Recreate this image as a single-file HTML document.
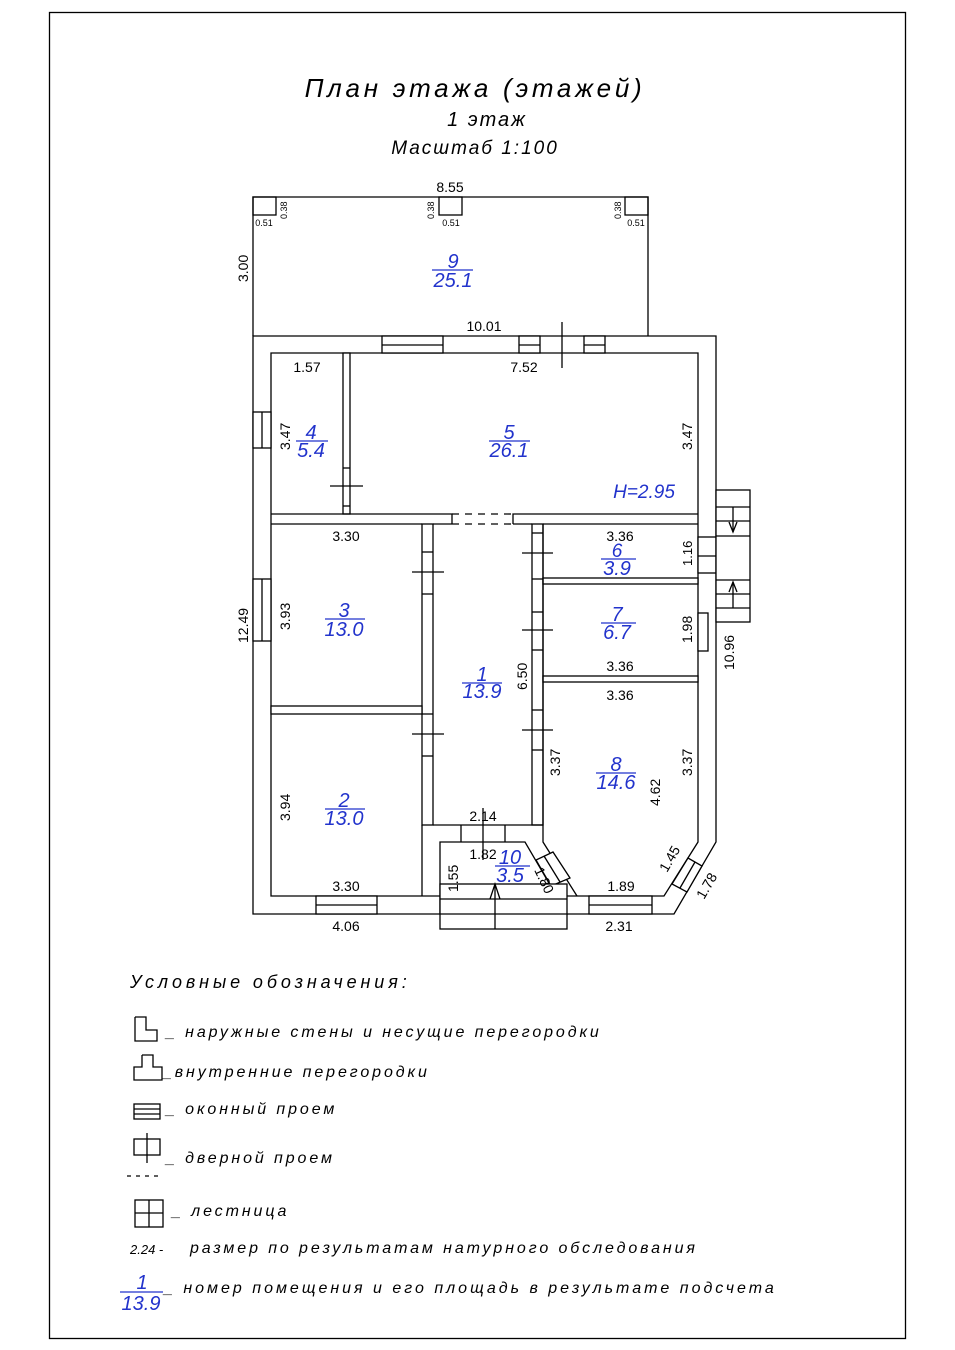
<!DOCTYPE html>
<html><head><meta charset="utf-8"><style>
html,body{margin:0;padding:0;background:#fff}
svg{display:block}
text{font-family:"Liberation Sans","DejaVu Sans",sans-serif}
.t{font-style:italic}
.d{font-size:14px;fill:#000}
.s{font-size:9px}
.b{fill:#2233cc;font-style:italic;font-size:20px}
</style></head><body>
<svg width="955" height="1350" viewBox="0 0 955 1350" xmlns="http://www.w3.org/2000/svg">
<rect x="49.5" y="12.5" width="856" height="1326" fill="none" stroke="#000" stroke-width="1.3"/>
<text class="t" x="475" y="97" font-size="26" text-anchor="middle" style="letter-spacing:3.7px">План этажа (этажей)</text>
<text class="t" x="487" y="126" font-size="20" text-anchor="middle" style="letter-spacing:2px">1 этаж</text>
<text class="t" x="475" y="154" font-size="19" text-anchor="middle" style="letter-spacing:2px">Масштаб 1:100</text>

<g fill="none" stroke="#000" stroke-width="1.3">
<polyline points="253,336 253,197 648,197 648,336"/>
<rect x="253" y="197" width="23" height="18"/>
<rect x="439" y="197" width="23" height="18"/>
<rect x="625" y="197" width="23" height="18"/>
<polygon points="253,336 716,336 716,842 674,914 253,914" fill="#fff"/>
<polygon points="271,353 698,353 698,842 664,896 271,896"/>
<rect x="382" y="336" width="61" height="17" fill="#fff"/><line x1="382" y1="345" x2="443" y2="345"/>
<rect x="519" y="336" width="21" height="17" fill="#fff"/><line x1="519" y1="345" x2="540" y2="345"/>
<rect x="584" y="336" width="21" height="17" fill="#fff"/><line x1="584" y1="345" x2="605" y2="345"/>
<line x1="562" y1="322" x2="562" y2="368"/>
<rect x="253" y="412" width="18" height="36" fill="#fff"/><line x1="262" y1="412" x2="262" y2="448"/>
<rect x="253" y="579" width="18" height="62" fill="#fff"/><line x1="262" y1="579" x2="262" y2="641"/>
<rect x="316" y="896" width="61" height="18" fill="#fff"/><line x1="316" y1="905" x2="377" y2="905"/>
<rect x="589" y="896" width="63" height="18" fill="#fff"/><line x1="589" y1="905" x2="652" y2="905"/>
<rect x="343" y="353" width="7" height="161" fill="#fff"/>
<line x1="343" y1="468" x2="350" y2="468"/><line x1="343" y1="506" x2="350" y2="506"/>
<line x1="330" y1="486" x2="363" y2="486"/>
<polyline points="271,514 452,514 452,524"/>
<polyline points="513,524 513,514 698,514"/>
<polyline points="271,524 422,524"/>
<polyline points="433,524 452,524"/>
<polyline points="513,524 532,524"/>
<polyline points="543,524 698,524"/>
<line x1="452" y1="514" x2="513" y2="514" stroke-dasharray="7,6"/>
<line x1="452" y1="524" x2="513" y2="524" stroke-dasharray="7,6"/>
<rect x="422" y="524" width="11" height="301" fill="#fff"/>
<line x1="422" y1="552" x2="433" y2="552"/><line x1="422" y1="594" x2="433" y2="594"/>
<line x1="412" y1="572" x2="444" y2="572"/>
<line x1="422" y1="714" x2="433" y2="714"/><line x1="422" y1="756" x2="433" y2="756"/>
<line x1="412" y1="734" x2="444" y2="734"/>
<rect x="271" y="706" width="151" height="8" fill="#fff"/>
<rect x="532" y="524" width="11" height="301" fill="#fff"/>
<line x1="532" y1="533" x2="543" y2="533"/><line x1="532" y1="579" x2="543" y2="579"/>
<line x1="522" y1="553" x2="553" y2="553"/>
<line x1="532" y1="612" x2="543" y2="612"/><line x1="532" y1="650" x2="543" y2="650"/>
<line x1="522" y1="630" x2="553" y2="630"/>
<line x1="532" y1="710" x2="543" y2="710"/><line x1="532" y1="750" x2="543" y2="750"/>
<line x1="522" y1="730" x2="553" y2="730"/>
<rect x="543" y="578" width="155" height="6" fill="#fff"/>
<rect x="543" y="676" width="155" height="6" fill="#fff"/>
<polyline points="433,825 543,825"/>
<polyline points="543,524 543,842 577,896"/>
<polyline points="422,825 422,896"/>
<polygon points="440,842 525,842 567,914 440,914" fill="#fff"/>
<line x1="461" y1="825" x2="461" y2="842"/><line x1="505" y1="825" x2="505" y2="842"/>
<line x1="483" y1="808" x2="483" y2="860"/>
<polygon points="536,860 551,886 570,878 553,852" fill="#fff"/>
<line x1="544" y1="856" x2="560" y2="882"/>
<polygon points="688,858 672,884 687,892 702,866" fill="#fff"/>
<line x1="695" y1="862" x2="680" y2="888"/>
<rect x="440" y="884" width="127" height="45" fill="#fff"/>
<line x1="440" y1="899" x2="567" y2="899"/>
<line x1="440" y1="914" x2="567" y2="914"/>
<line x1="495" y1="884" x2="495" y2="929"/>
<polyline points="490,899 495,884 500,899"/>
<rect x="698" y="537" width="18" height="36" fill="#fff"/>
<line x1="698" y1="556" x2="735" y2="556"/>
<rect x="698" y="613" width="10" height="38" fill="#fff"/>
<rect x="716" y="490" width="34" height="132" fill="#fff"/>
<line x1="716" y1="507" x2="750" y2="507"/>
<line x1="716" y1="521" x2="750" y2="521"/>
<line x1="716" y1="536" x2="750" y2="536"/>
<line x1="716" y1="580" x2="750" y2="580"/>
<line x1="716" y1="594" x2="750" y2="594"/>
<line x1="716" y1="608" x2="750" y2="608"/>
<line x1="733" y1="507" x2="733" y2="532"/><polyline points="729,522 733,532 737,522"/>
<line x1="733" y1="582" x2="733" y2="608"/><polyline points="729,592 733,582 737,592"/>
</g>

<g class="d">
<text x="450" y="192" text-anchor="middle" font-size="14">8.55</text>
<text x="264" y="226" text-anchor="middle" class="s">0.51</text>
<text x="451" y="226" text-anchor="middle" class="s">0.51</text>
<text x="636" y="226" text-anchor="middle" class="s">0.51</text>
<text transform="translate(287,219) rotate(-90)" class="s">0.38</text>
<text transform="translate(434,219) rotate(-90)" class="s">0.38</text>
<text transform="translate(621,219) rotate(-90)" class="s">0.38</text>
<text transform="translate(248,282) rotate(-90)">3.00</text>
<text x="484" y="331" text-anchor="middle">10.01</text>
<text x="307" y="372" text-anchor="middle">1.57</text>
<text x="524" y="372" text-anchor="middle">7.52</text>
<text transform="translate(290,450) rotate(-90)">3.47</text>
<text transform="translate(692,450) rotate(-90)">3.47</text>
<text x="346" y="541" text-anchor="middle">3.30</text>
<text x="620" y="541" text-anchor="middle">3.36</text>
<text transform="translate(692,566) rotate(-90)" font-size="13">1.16</text>
<text transform="translate(290,630) rotate(-90)">3.93</text>
<text transform="translate(248,643) rotate(-90)">12.49</text>
<text transform="translate(692,643) rotate(-90)">1.98</text>
<text transform="translate(734,670) rotate(-90)">10.96</text>
<text x="620" y="671" text-anchor="middle">3.36</text>
<text x="620" y="700" text-anchor="middle">3.36</text>
<text transform="translate(527,690) rotate(-90)">6.50</text>
<text transform="translate(560,776) rotate(-90)">3.37</text>
<text transform="translate(692,776) rotate(-90)">3.37</text>
<text transform="translate(660,806) rotate(-90)">4.62</text>
<text transform="translate(290,821) rotate(-90)">3.94</text>
<text x="483" y="821" text-anchor="middle">2.14</text>
<text x="483" y="859" text-anchor="middle">1.82</text>
<text transform="translate(458,892) rotate(-90)">1.55</text>
<text transform="translate(534,870) rotate(65)">1.80</text>
<text transform="translate(667,873) rotate(-60)">1.45</text>
<text transform="translate(704,900) rotate(-60)">1.78</text>
<text x="346" y="891" text-anchor="middle">3.30</text>
<text x="621" y="891" text-anchor="middle">1.89</text>
<text x="346" y="931" text-anchor="middle">4.06</text>
<text x="619" y="931" text-anchor="middle">2.31</text>
</g>

<g class="b" text-anchor="middle">
<text x="453" y="268">9</text><text x="453" y="287">25.1</text>
<text x="311" y="439">4</text><text x="311" y="457">5.4</text>
<text x="509" y="439">5</text><text x="509" y="457">26.1</text>
<text x="644" y="498" font-size="19">H=2.95</text>
<text x="617" y="557" font-size="19">6</text><text x="617" y="575">3.9</text>
<text x="344" y="617">3</text><text x="344" y="636">13.0</text>
<text x="617" y="621">7</text><text x="617" y="639">6.7</text>
<text x="482" y="681">1</text><text x="482" y="698">13.9</text>
<text x="616" y="771">8</text><text x="616" y="789">14.6</text>
<text x="344" y="807">2</text><text x="344" y="825">13.0</text>
<text x="510" y="864">10</text><text x="510" y="882">3.5</text>
</g>
<g stroke="#2233cc" stroke-width="1.3">
<line x1="432" y1="270" x2="473" y2="270"/>
<line x1="296" y1="441" x2="328" y2="441"/>
<line x1="489" y1="441" x2="530" y2="441"/>
<line x1="601" y1="559" x2="636" y2="559"/>
<line x1="325" y1="619" x2="365" y2="619"/>
<line x1="601" y1="623" x2="636" y2="623"/>
<line x1="462" y1="683" x2="502" y2="683"/>
<line x1="596" y1="773" x2="636" y2="773"/>
<line x1="325" y1="809" x2="365" y2="809"/>
<line x1="495" y1="866" x2="530" y2="866"/>
<line x1="120" y1="1292" x2="163" y2="1292"/>
</g>

<g class="t" font-size="16" style="letter-spacing:2.9px">
<text x="130" y="988" font-size="18" style="letter-spacing:3.9px">Условные обозначения:</text>
<text x="166" y="1037">_ наружные стены и несущие перегородки</text>
<text x="163" y="1077">_внутренние перегородки</text>
<text x="166" y="1114">_ оконный проем</text>
<text x="166" y="1163">_ дверной проем</text>
<text x="172" y="1216">_ лестница</text>
<text x="130" y="1254" font-size="13" style="letter-spacing:0">2.24 -</text>
<text x="190" y="1253">размер по результатам натурного обследования</text>
<text x="164" y="1293" style="letter-spacing:3px">_ номер помещения и его площадь в результате подсчета</text>
</g>
<g fill="#2233cc" font-style="italic" font-size="20" text-anchor="middle">
<text x="142" y="1289">1</text><text x="141" y="1310">13.9</text>
</g>
<g fill="none" stroke="#000" stroke-width="1.3">
<polyline points="135,1017 135,1041 157,1041 157,1030 146,1030 146,1017 135,1017"/>
<polyline points="142,1055 142,1067 134,1067 134,1080 162,1080 162,1067 153,1067 153,1055 142,1055"/>
<rect x="134" y="1104" width="26" height="15"/>
<line x1="134" y1="1109" x2="160" y2="1109"/><line x1="134" y1="1114" x2="160" y2="1114"/>
<rect x="134" y="1139" width="26" height="16"/>
<line x1="147" y1="1133" x2="147" y2="1163"/>
<line x1="127" y1="1176" x2="163" y2="1176" stroke-dasharray="4,5"/>
<rect x="135" y="1200" width="28" height="27"/>
<line x1="135" y1="1213" x2="163" y2="1213"/>
<line x1="149" y1="1200" x2="149" y2="1227"/>
</g>
</svg>
</body></html>
